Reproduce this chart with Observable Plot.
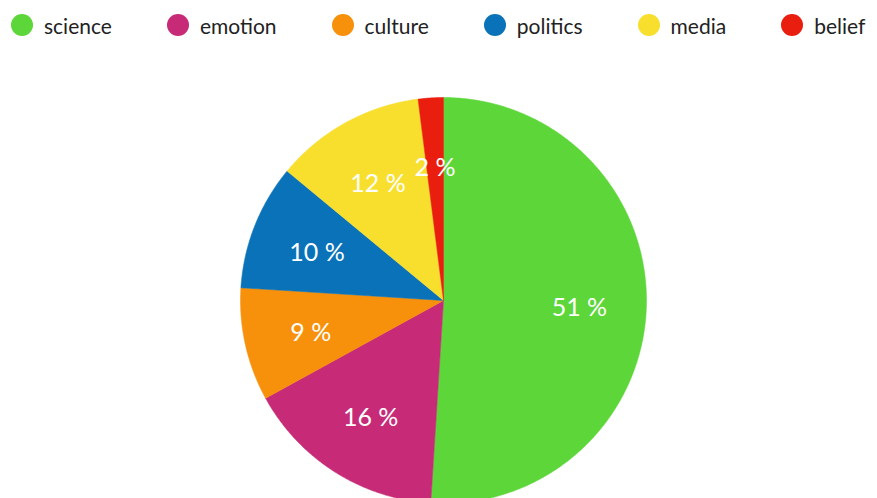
<!DOCTYPE html>
<html><head><meta charset="utf-8">
<script src="https://cdn.jsdelivr.net/npm/d3@7"></script>
<script src="https://cdn.jsdelivr.net/npm/@observablehq/plot@0.6"></script>
<style>
body{margin:0;background:#fff;font-family:Lato,"Open Sans",sans-serif;}
#legend{display:flex;align-items:center;height:50px;padding-left:11px;gap:55px;white-space:nowrap;}
.item{display:flex;align-items:center;font-size:21px;color:#222;}
.sw{width:22px;height:22px;border-radius:50%;margin-right:11px;flex:none;}
</style></head>
<body>
<div id="legend"></div>
<div id="chart"></div>
<script>
const categories = ["science","emotion","culture","politics","media","belief"];
const values = [51,16,9,10,12,2];
const colors = ["#5cd639","#c72a77","#f7900a","#0a72b8","#f8df2e","#e91e0f"];

const legend = document.getElementById("legend");
categories.forEach((c,i)=>{
  const it=document.createElement("div");it.className="item";
  const sw=document.createElement("div");sw.className="sw";sw.style.background=colors[i];
  it.appendChild(sw);it.appendChild(document.createTextNode(c));legend.appendChild(it);
});

const arcs = d3.pie().sort(null).value(d=>d.v)(categories.map((c,i)=>({c,v:values[i]})));
const pts=[];const labels=[];
arcs.forEach(a=>{
  const c=a.data.c;
  pts.push({c,x:0,y:0});
  const n=Math.max(2,Math.ceil((a.endAngle-a.startAngle)/(Math.PI/360)));
  for(let k=0;k<=n;k++){const t=a.startAngle+(a.endAngle-a.startAngle)*k/n;pts.push({c,x:Math.sin(t),y:Math.cos(t)});}
  pts.push({c,x:0,y:0});
  const m=(a.startAngle+a.endAngle)/2;
  labels.push({c,x:0.67*Math.sin(m),y:0.67*Math.cos(m),t:a.data.v+" %"});
});

const R=203;
const chart = Plot.plot({
  width:877,height:448,margin:0,
  style:{fontFamily:"Lato,'Open Sans',sans-serif",overflow:"visible"},
  x:{domain:[-443/R,434/R],range:[0,877],axis:null},
  y:{domain:[-198/R,250/R],range:[448,0],axis:null},
  color:{domain:categories,range:colors},
  marks:[
    Plot.line(pts,{x:"x",y:"y",z:"c",fill:"c",stroke:"c",strokeWidth:0.5,curve:"linear"}),
    Plot.text(labels,{x:"x",y:"y",text:"t",fill:"white",fontSize:25,dy:3})
  ]
});
document.getElementById("chart").appendChild(chart);
</script>
</body></html>
